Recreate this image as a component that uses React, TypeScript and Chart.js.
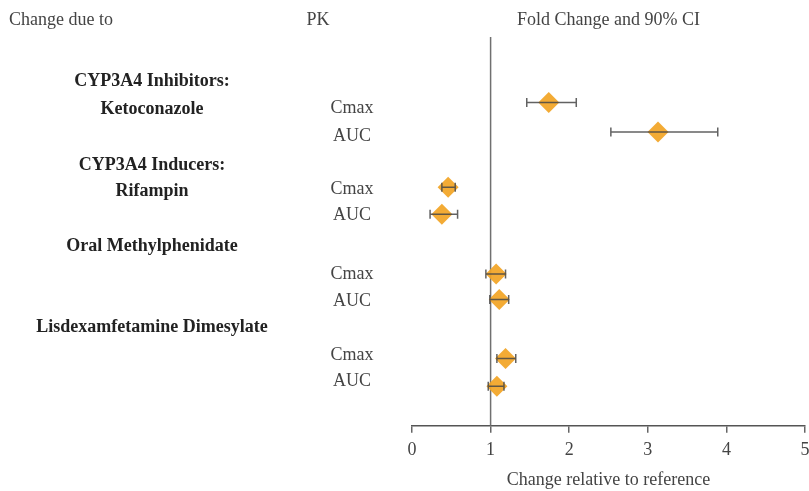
import React, { useEffect, useRef } from "react";
import { Chart, registerables } from "chart.js";

Chart.register(...registerables);

// ---- data ----
const groupLabels = [
  "CYP3A4 Inhibitors:",
  "Ketoconazole",
  "CYP3A4 Inducers:",
  "Rifampin",
  "Oral Methylphenidate",
  "Lisdexamfetamine Dimesylate",
];
const groupLabelRows = [1.58, 2.6, 4.62, 5.55, 7.53, 10.47];

const pkLabels = ["Cmax", "AUC", "Cmax", "AUC", "Cmax", "AUC", "Cmax", "AUC"];
const pkLabelRows = [2.55, 3.58, 5.5, 6.42, 8.55, 9.5, 11.46, 12.4];

const pointRows = [2.36, 3.42, 5.41, 6.38, 8.53, 9.45, 11.58, 12.58];
const foldChange = [1.74, 3.13, 0.46, 0.38, 1.07, 1.11, 1.19, 1.08];
const ciLower = [1.46, 2.53, 0.38, 0.23, 0.94, 0.99, 1.08, 0.97];
const ciUpper = [2.09, 3.89, 0.55, 0.58, 1.19, 1.23, 1.32, 1.17];

const xTicks = [0, 1, 2, 3, 4, 5];
const referenceValue = 1;

const headerLeft = "Change due to";
const headerMid = "PK";
const headerRight = "Fold Change and 90% CI";
const xTitle = "Change relative to reference";

const FONT = '"Liberation Serif", "Times New Roman", serif';

const overlayPlugin = {
  id: "forestOverlay",
  beforeDatasetsDraw(chart: any) {
    const { ctx, chartArea, scales } = chart;
    const x = scales.x.getPixelForValue(referenceValue);
    ctx.save();
    ctx.strokeStyle = "#707070";
    ctx.lineWidth = 1.5;
    ctx.beginPath();
    ctx.moveTo(x, chartArea.top);
    ctx.lineTo(x, chartArea.bottom);
    ctx.stroke();
    ctx.restore();
  },
  afterDatasetsDraw(chart: any) {
    const { ctx, chartArea, scales } = chart;
    const xs = scales.x;
    const ys = scales.y;
    ctx.save();
    // error bars
    ctx.strokeStyle = "rgba(70,70,70,0.85)";
    ctx.lineWidth = 1.5;
    for (let i = 0; i < foldChange.length; i++) {
      const y = ys.getPixelForValue(pointRows[i]);
      const x1 = xs.getPixelForValue(ciLower[i]);
      const x2 = xs.getPixelForValue(ciUpper[i]);
      ctx.beginPath();
      ctx.moveTo(x1, y);
      ctx.lineTo(x2, y);
      ctx.moveTo(x1, y - 4.5);
      ctx.lineTo(x1, y + 4.5);
      ctx.moveTo(x2, y - 4.5);
      ctx.lineTo(x2, y + 4.5);
      ctx.stroke();
    }
    // headers
    ctx.textBaseline = "middle";
    ctx.fillStyle = "#444";
    ctx.font = `18px ${FONT}`;
    const hy = chartArea.top - 17;
    ctx.textAlign = "left";
    ctx.fillText(headerLeft, 9, hy);
    ctx.textAlign = "center";
    ctx.fillText(headerMid, 318, hy);
    ctx.fillText(headerRight, (chartArea.left + chartArea.right) / 2, hy);
    // group labels
    ctx.fillStyle = "#222";
    ctx.font = `bold 18px ${FONT}`;
    for (let i = 0; i < groupLabels.length; i++) {
      ctx.fillText(groupLabels[i], 152, ys.getPixelForValue(groupLabelRows[i]));
    }
    // pk labels
    ctx.fillStyle = "#444";
    ctx.font = `18px ${FONT}`;
    for (let i = 0; i < pkLabels.length; i++) {
      ctx.fillText(pkLabels[i], 352, ys.getPixelForValue(pkLabelRows[i]));
    }
    ctx.restore();
  },
};

export default function App() {
  const ref = useRef<HTMLCanvasElement | null>(null);
  useEffect(() => {
    if (!ref.current) return;
    const chart = new Chart(ref.current, {
      type: "scatter",
      data: {
        datasets: [
          {
            data: foldChange.map((v, i) => ({ x: v, y: pointRows[i] })),
            pointStyle: "rectRot",
            radius: 10.5,
            hoverRadius: 10.5,
            backgroundColor: "rgba(242,164,36,0.92)",
            borderWidth: 0,
            showLine: false,
            clip: false,
          },
        ],
      },
      options: {
        responsive: false,
        animation: false,
        layout: { autoPadding: false, padding: { left: 412, right: 4, top: 37, bottom: 0 } },
        plugins: {
          legend: { display: false },
          tooltip: { enabled: false },
        },
        scales: {
          x: {
            type: "linear",
            min: xTicks[0],
            max: xTicks[xTicks.length - 1],
            afterBuildTicks: (axis: any) => {
              axis.ticks = xTicks.map((v) => ({ value: v }));
            },
            afterFit: (axis: any) => {
              axis.paddingLeft = 0;
              axis.paddingRight = 0;
            },
            border: { display: true, color: "#555", width: 1.5 },
            grid: {
              display: true,
              drawOnChartArea: false,
              drawTicks: true,
              tickLength: 7,
              color: "#666",
              lineWidth: 1.5,
            },
            ticks: {
              padding: 7,
              color: "#444",
              font: { family: FONT, size: 18 },
              maxRotation: 0,
            },
            title: {
              display: true,
              text: xTitle,
              color: "#444",
              font: { family: FONT, size: 18 },
              padding: { top: 1, bottom: 0 },
            },
          },
          y: {
            type: "linear",
            min: 0,
            max: 14,
            reverse: true,
            display: false,
          },
        },
      },
      plugins: [overlayPlugin],
    });
    return () => chart.destroy();
  }, []);
  return (
    <div style={{ position: "absolute", left: 0, top: 0, width: 809, height: 491, background: "#fff" }}>
      <canvas ref={ref} width={809} height={491} style={{ display: "block" }} />
    </div>
  );
}
